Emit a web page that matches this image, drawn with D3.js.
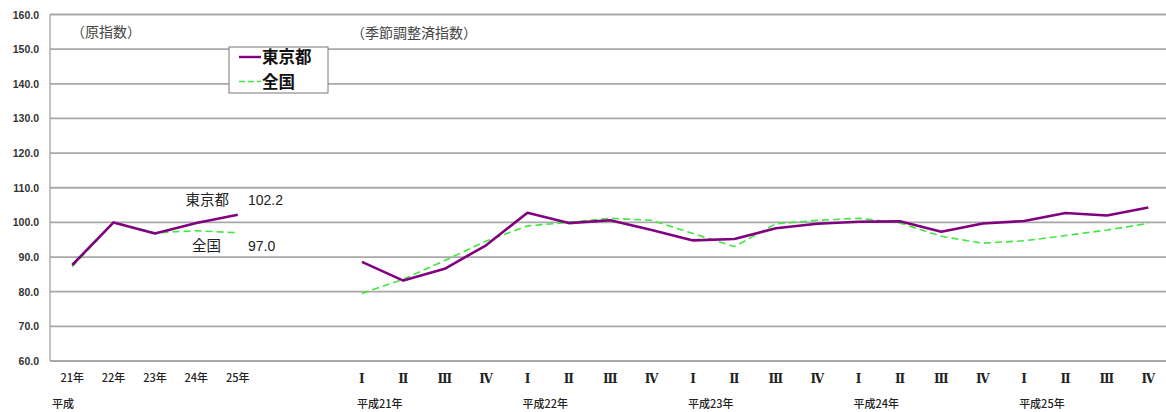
<!DOCTYPE html>
<html>
<head>
<meta charset="utf-8">
<script src="https://cdn.jsdelivr.net/npm/d3@7"></script>
<style>
  html, body { margin: 0; padding: 0; background: #fff; }
  svg { display: block; }
  text { font-family: "Noto Sans CJK JP", "Liberation Sans", sans-serif; }
</style>
</head>
<body>
<svg id="chart" width="1166" height="412"></svg>
<script>
// Annual (original index) categories and values
const annualLabels = ["21年", "22年", "23年", "24年", "25年"];
const annualTokyo = [87.7, 100.0, 96.8, 99.8, 102.2];
const annualNation = [87.2, 100.0, 97.0, 97.6, 97.0];

// Quarterly (seasonally adjusted index) categories and values
const quarterLabels = ["Ⅰ", "Ⅱ", "Ⅲ", "Ⅳ", "Ⅰ", "Ⅱ", "Ⅲ", "Ⅳ", "Ⅰ", "Ⅱ", "Ⅲ", "Ⅳ", "Ⅰ", "Ⅱ", "Ⅲ", "Ⅳ", "Ⅰ", "Ⅱ", "Ⅲ", "Ⅳ"];
const quarterYears = ["平成21年", "平成22年", "平成23年", "平成24年", "平成25年"];
const quarterTokyo = [88.6, 83.2, 86.6, 93.4, 102.8, 99.8, 100.6, 97.8, 94.8, 95.2, 98.3, 99.6, 100.2, 100.3, 97.3, 99.7, 100.4, 102.7, 102.0, 104.3];
const quarterNation = [79.5, 83.6, 89.0, 94.6, 99.0, 100.0, 101.2, 100.6, 96.8, 93.0, 99.6, 100.6, 101.2, 99.8, 96.0, 94.0, 94.7, 96.2, 97.8, 99.7];

const yTicks = [60, 70, 80, 90, 100, 110, 120, 130, 140, 150, 160];

const TOKYO_COLOR = "#800080";
const NATION_COLOR = "#3ee83e";

const svg = d3.select("#chart");

// Category slots: 5 years, 2 empty spacers, 20 quarters
const slots = [
  ...annualLabels.map((d, i) => "a" + i),
  "gap0", "gap1",
  ...quarterLabels.map((d, i) => "q" + i)
];

const x = d3.scaleBand().domain(slots).range([51.5, 1169]).padding(0);
const cx = k => x(k) + x.bandwidth() / 2;
const y = d3.scaleLinear().domain([60, 160]).range([361, 14.5]);

// Horizontal gridlines
svg.append("g")
  .selectAll("line")
  .data(yTicks)
  .join("line")
  .attr("x1", 50).attr("x2", 1166)
  .attr("y1", d => y(d)).attr("y2", d => y(d))
  .attr("stroke", "#a8a8a8")
  .attr("stroke-width", 1.8);

// Left axis line
svg.append("line")
  .attr("x1", 50).attr("x2", 50)
  .attr("y1", y(160)).attr("y2", y(60))
  .attr("stroke", "#a8a8a8").attr("stroke-width", 1.4);

// Y tick labels
svg.append("g")
  .selectAll("text")
  .data(yTicks)
  .join("text")
  .attr("x", 39).attr("y", d => y(d) + 4)
  .attr("text-anchor", "end")
  .attr("font-size", 10.5)
  .attr("font-weight", 600)
  .attr("fill", "#333")
  .style("font-family", "'Liberation Sans', Arial, sans-serif")
  .text(d => d.toFixed(1));

// Annual category labels
svg.append("g")
  .selectAll("text")
  .data(annualLabels)
  .join("text")
  .attr("x", (d, i) => cx("a" + i))
  .attr("y", 382)
  .attr("text-anchor", "middle")
  .attr("font-size", 11)
  .attr("font-weight", 500)
  .attr("fill", "#222")
  .text(d => d);

svg.append("text")
  .attr("x", 52).attr("y", 408)
  .attr("font-size", 11).attr("font-weight", 500).attr("fill", "#222")
  .text("平成");

// Quarter labels (serif roman numerals)
svg.append("g")
  .selectAll("text")
  .data(quarterLabels)
  .join("text")
  .attr("x", (d, i) => cx("q" + i))
  .attr("y", 383)
  .attr("text-anchor", "middle")
  .attr("font-size", 12)
  .attr("font-weight", 700)
  .attr("fill", "#222")
  .style("font-family", "'DejaVu Serif', 'Liberation Serif', serif")
  .text(d => d);

svg.append("g")
  .selectAll("text")
  .data(quarterYears)
  .join("text")
  .attr("x", (d, i) => cx("q" + (i * 4)) - 5)
  .attr("y", 408)
  .attr("font-size", 11)
  .attr("font-weight", 500)
  .attr("fill", "#222")
  .text(d => d);

// Panel titles
svg.append("text")
  .attr("x", 71).attr("y", 37)
  .attr("font-size", 14).attr("fill", "#444")
  .text("（原指数）");
svg.append("text")
  .attr("x", 351).attr("y", 38)
  .attr("font-size", 14).attr("fill", "#444")
  .text("（季節調整済指数）");

// Line series
const line = d3.line().x(d => cx(d.k)).y(d => y(d.v));

function series(values, prefix) {
  return values.map((v, i) => ({ k: prefix + i, v }));
}

const nationStyle = g => g.attr("fill", "none").attr("stroke", NATION_COLOR)
  .attr("stroke-width", 1.6).attr("stroke-dasharray", "7,4");
const tokyoStyle = g => g.attr("fill", "none").attr("stroke", TOKYO_COLOR)
  .attr("stroke-width", 2.6).attr("stroke-linejoin", "round");

// National drawn first, Tokyo on top
svg.append("path").datum(series(annualNation, "a")).attr("d", line).call(nationStyle);
svg.append("path").datum(series(quarterNation, "q")).attr("d", line).call(nationStyle);
svg.append("path").datum(series(annualTokyo, "a")).attr("d", line).call(tokyoStyle);
svg.append("path").datum(series(quarterTokyo, "q")).attr("d", line).call(tokyoStyle);

// Latest annual value labels
const lastIdx = annualLabels.length - 1;
svg.append("text")
  .attr("x", 229).attr("y", 205)
  .attr("text-anchor", "end")
  .attr("font-size", 14.5).attr("fill", "#222")
  .text("東京都");
svg.append("text")
  .attr("x", 248).attr("y", 205)
  .attr("font-size", 14).attr("fill", "#222")
  .style("font-family", "'Liberation Sans', Arial, sans-serif")
  .text(annualTokyo[lastIdx].toFixed(1));
svg.append("text")
  .attr("x", 221).attr("y", 251)
  .attr("text-anchor", "end")
  .attr("font-size", 14.5).attr("fill", "#222")
  .text("全国");
svg.append("text")
  .attr("x", 248).attr("y", 251)
  .attr("font-size", 14).attr("fill", "#222")
  .style("font-family", "'Liberation Sans', Arial, sans-serif")
  .text(annualNation[lastIdx].toFixed(1));

// Legend
const legend = svg.append("g").attr("transform", "translate(229,47)");
legend.append("rect")
  .attr("width", 99).attr("height", 46)
  .attr("fill", "#fff").attr("stroke", "#777").attr("stroke-width", 1);
const legendItems = [
  { name: "東京都", color: TOKYO_COLOR, dash: null, w: 2.4 },
  { name: "全国", color: NATION_COLOR, dash: "6,3", w: 1.6 }
];
legendItems.forEach((d, i) => {
  const yy = 10 + i * 24.5;
  legend.append("line")
    .attr("x1", 10).attr("x2", 32).attr("y1", yy).attr("y2", yy)
    .attr("stroke", d.color).attr("stroke-width", d.w)
    .attr("stroke-dasharray", d.dash);
  legend.append("text")
    .attr("x", 33).attr("y", yy + 6)
    .attr("font-size", 16.5).attr("font-weight", 700).attr("fill", "#111")
    .text(d.name);
});
</script>
</body>
</html>
